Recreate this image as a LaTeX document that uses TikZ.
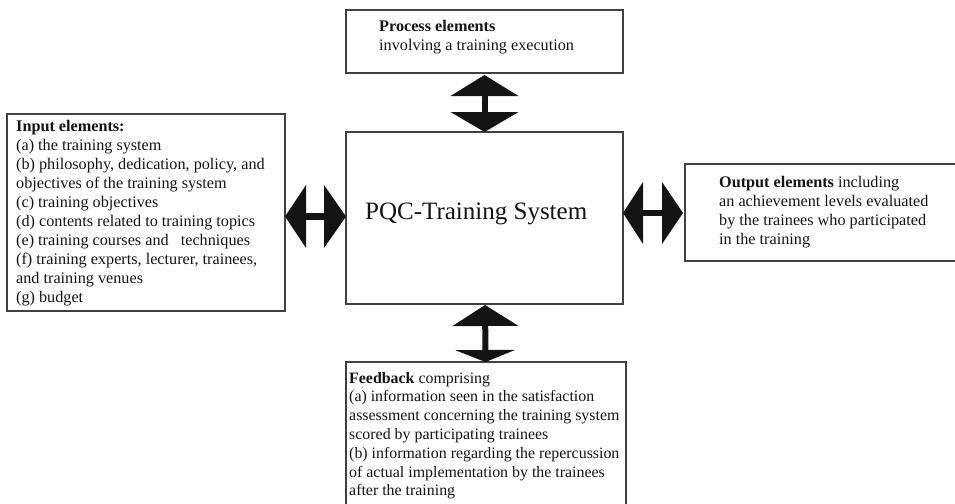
\documentclass[tikz,border=0pt]{standalone}
\usepackage{fontspec}
\setmainfont{Liberation Serif}
\usetikzlibrary{arrows.meta,calc}
\definecolor{boxgray}{HTML}{404040}
\definecolor{inkblack}{HTML}{141414}
\begin{document}
\begin{tikzpicture}[x=1pt,y=-1pt,
  box/.style={draw=boxgray, line width=1.3pt, rectangle, inner sep=0pt, outer sep=0pt, anchor=north west},
  txt/.style={anchor=north west, inner sep=0pt, align=left, text=inkblack, font=\fontsize{16.2}{19}\selectfont},
  txtf/.style={txt, font=\fontsize{15.9}{18.8}\selectfont},
  blockarrow/.style={draw=inkblack, line width=6pt}
]
\clip (0,0) rectangle (955,503);
\fill[white] (0,0) rectangle (955,503);

% boxes
\node[box, minimum width=277pt, minimum height=63pt]  (proc)   at (346,10)  {};
\node[box, minimum width=277pt, minimum height=172pt] (center) at (346,132) {};
\node[box, minimum width=278pt, minimum height=197pt] (input)  at (7,114)   {};
\node[box, minimum width=280pt, minimum height=97pt]  (output) at (685,164) {};
\node[box, minimum width=280pt, minimum height=160pt] (feed)   at (346,362) {};

% texts
\node[txt] (proctxt) at (379,18.4) {\strut\textbf{Process elements}\\involving a training execution};
\node[anchor=base west, inner sep=0pt, text=inkblack, font=\fontsize{25}{30}\selectfont] (centxt) at (365,219) {PQC-Training System};
\node[txt] (inptxt) at (16,118.4) {\strut\textbf{Input elements:}\\
(a) the training system\\
(b) philosophy, dedication, policy, and\\
objectives of the training system\\
(c) training objectives\\
(d) contents related to training topics\\
(e) training courses and \ \ techniques\\
(f) training experts, lecturer, trainees,\\
and training venues\\
(g) budget};
\node[txt] (outtxt) at (719,173.7) {\strut\textbf{Output elements} including\\
an achievement levels evaluated\\
by the trainees who participated\\
in the training};
\node[txtf] (feedtxt) at (349,369.8) {\strut\textbf{Feedback} comprising\\
(a) information seen in the satisfaction\\
assessment concerning the training system\\
scored by participating trainees\\
(b) information regarding the repercussion\\
of actual implementation by the trainees\\
after the training};

% block double arrows
\draw[blockarrow, {Triangle[length=21pt,width=68pt,line width=0pt]}-{Triangle[length=20pt,width=68pt,line width=0pt]}, shorten <=2pt] (proc) -- (center);
\draw[blockarrow, {Triangle[length=21pt,width=66pt,line width=0pt]}-{Triangle[length=12pt,width=60pt,line width=0pt]}, shorten <=1pt] (center) -- (feed);
\draw[blockarrow, line width=7pt, {Triangle[length=21pt,width=63pt,line width=0pt]}-{Triangle[length=22pt,width=63pt,line width=0pt]}] (input.east |- 0,216.5) -- (center.west |- 0,216.5);
\draw[blockarrow, {Triangle[length=20pt,width=62pt,line width=0pt]}-{Triangle[length=21pt,width=62pt,line width=0pt]}, shorten >=2pt] (center.east |- 0,213) -- (output.west |- 0,213);
\end{tikzpicture}
\end{document}
